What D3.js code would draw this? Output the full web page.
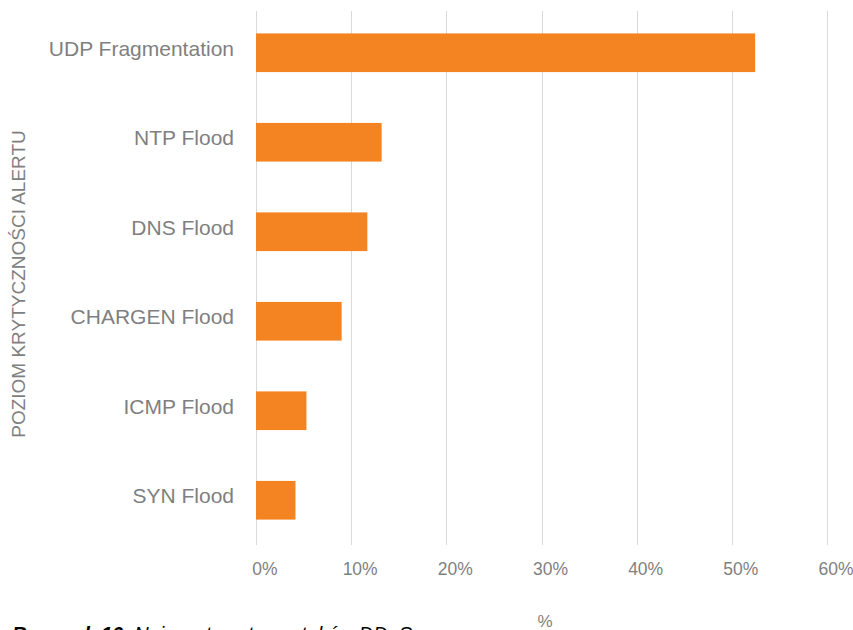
<!DOCTYPE html>
<html>
<head>
<meta charset="utf-8">
<script src="https://cdn.jsdelivr.net/npm/d3@7"></script>
<style>
  body { margin: 0; background: #fff; }
  svg { display: block; font-family: "Liberation Sans", Arial, sans-serif; }
</style>
</head>
<body>
<div id="chart"></div>
<script>
const categories = ["UDP Fragmentation", "NTP Flood", "DNS Flood", "CHARGEN Flood", "ICMP Flood", "SYN Flood"];
const shares = [52.45, 13.2, 11.7, 9.0, 5.3, 4.15];
const xTicks = [0, 10, 20, 30, 40, 50, 60];
const yTitle = "POZIOM KRYTYCZNOŚCI ALERTU";
const xTitle = "%";
const captionBold = "Rysunek 10.";
const captionText = " Najczęstsze typy ataków DDoS";

const width = 853, height = 630;
const margin = { top: 8, right: 26, bottom: 85, left: 256 };

const data = categories.map((c, i) => ({ name: c, value: shares[i] }));

const xScale = d3.scaleLinear()
    .domain([0, 60])
    .range([margin.left, width - margin.right]);

const yScale = d3.scaleBand()
    .domain(categories)
    .range([margin.top, height - margin.bottom])
    .paddingInner(0.568)
    .paddingOuter(0.284);

const svg = d3.select("#chart")
    .append("svg")
    .attr("width", width)
    .attr("height", height)
    .attr("viewBox", [0, 0, width, height]);

// grid
svg.append("g")
    .selectAll("line")
    .data(xTicks)
    .join("line")
        .attr("x1", d => Math.round(xScale(d)) + 0.5)
        .attr("x2", d => Math.round(xScale(d)) + 0.5)
        .attr("y1", 11)
        .attr("y2", 545)
        .attr("stroke", "#d9d9d9")
        .attr("stroke-width", 1);

// bars
svg.append("g")
    .selectAll("rect")
    .data(data)
    .join("rect")
        .attr("x", xScale(0))
        .attr("y", d => yScale(d.name))
        .attr("width", d => xScale(d.value) - xScale(0))
        .attr("height", yScale.bandwidth())
        .attr("fill", "#f48322");

// category labels
svg.append("g")
    .selectAll("text")
    .data(categories)
    .join("text")
        .attr("x", 234)
        .attr("y", d => yScale(d) + yScale.bandwidth() / 2 - 4.5)
        .attr("dy", "0.35em")
        .attr("text-anchor", "end")
        .attr("fill", "#7f7f7f")
        .style("font-size", "21px")
        .text(d => d);

// x tick labels
svg.append("g")
    .selectAll("text")
    .data(xTicks)
    .join("text")
        .attr("x", d => xScale(d) + 9)
        .attr("y", 575)
        .attr("text-anchor", "middle")
        .attr("fill", "#7f7f7f")
        .style("font-size", "17.5px")
        .text(d => d + "%");

// axis titles
svg.append("text")
    .attr("transform", `translate(25, 284) rotate(-90)`)
    .attr("text-anchor", "middle")
    .attr("fill", "#7f7f7f")
    .style("font-size", "19px")
    .text(yTitle);

svg.append("text")
    .attr("x", 545)
    .attr("y", 627)
    .attr("text-anchor", "middle")
    .attr("fill", "#7f7f7f")
    .style("font-size", "17px")
    .text(xTitle);

// caption, cut by the bottom edge as in the source
const caption = svg.append("text")
    .attr("x", 12)
    .attr("y", 640.5)
    .attr("fill", "#000")
    .style("font-size", "20px");
caption.append("tspan").attr("font-weight", "bold").attr("font-style", "italic").text(captionBold);
caption.append("tspan").attr("font-style", "italic").text(captionText);
</script>
</body>
</html>
